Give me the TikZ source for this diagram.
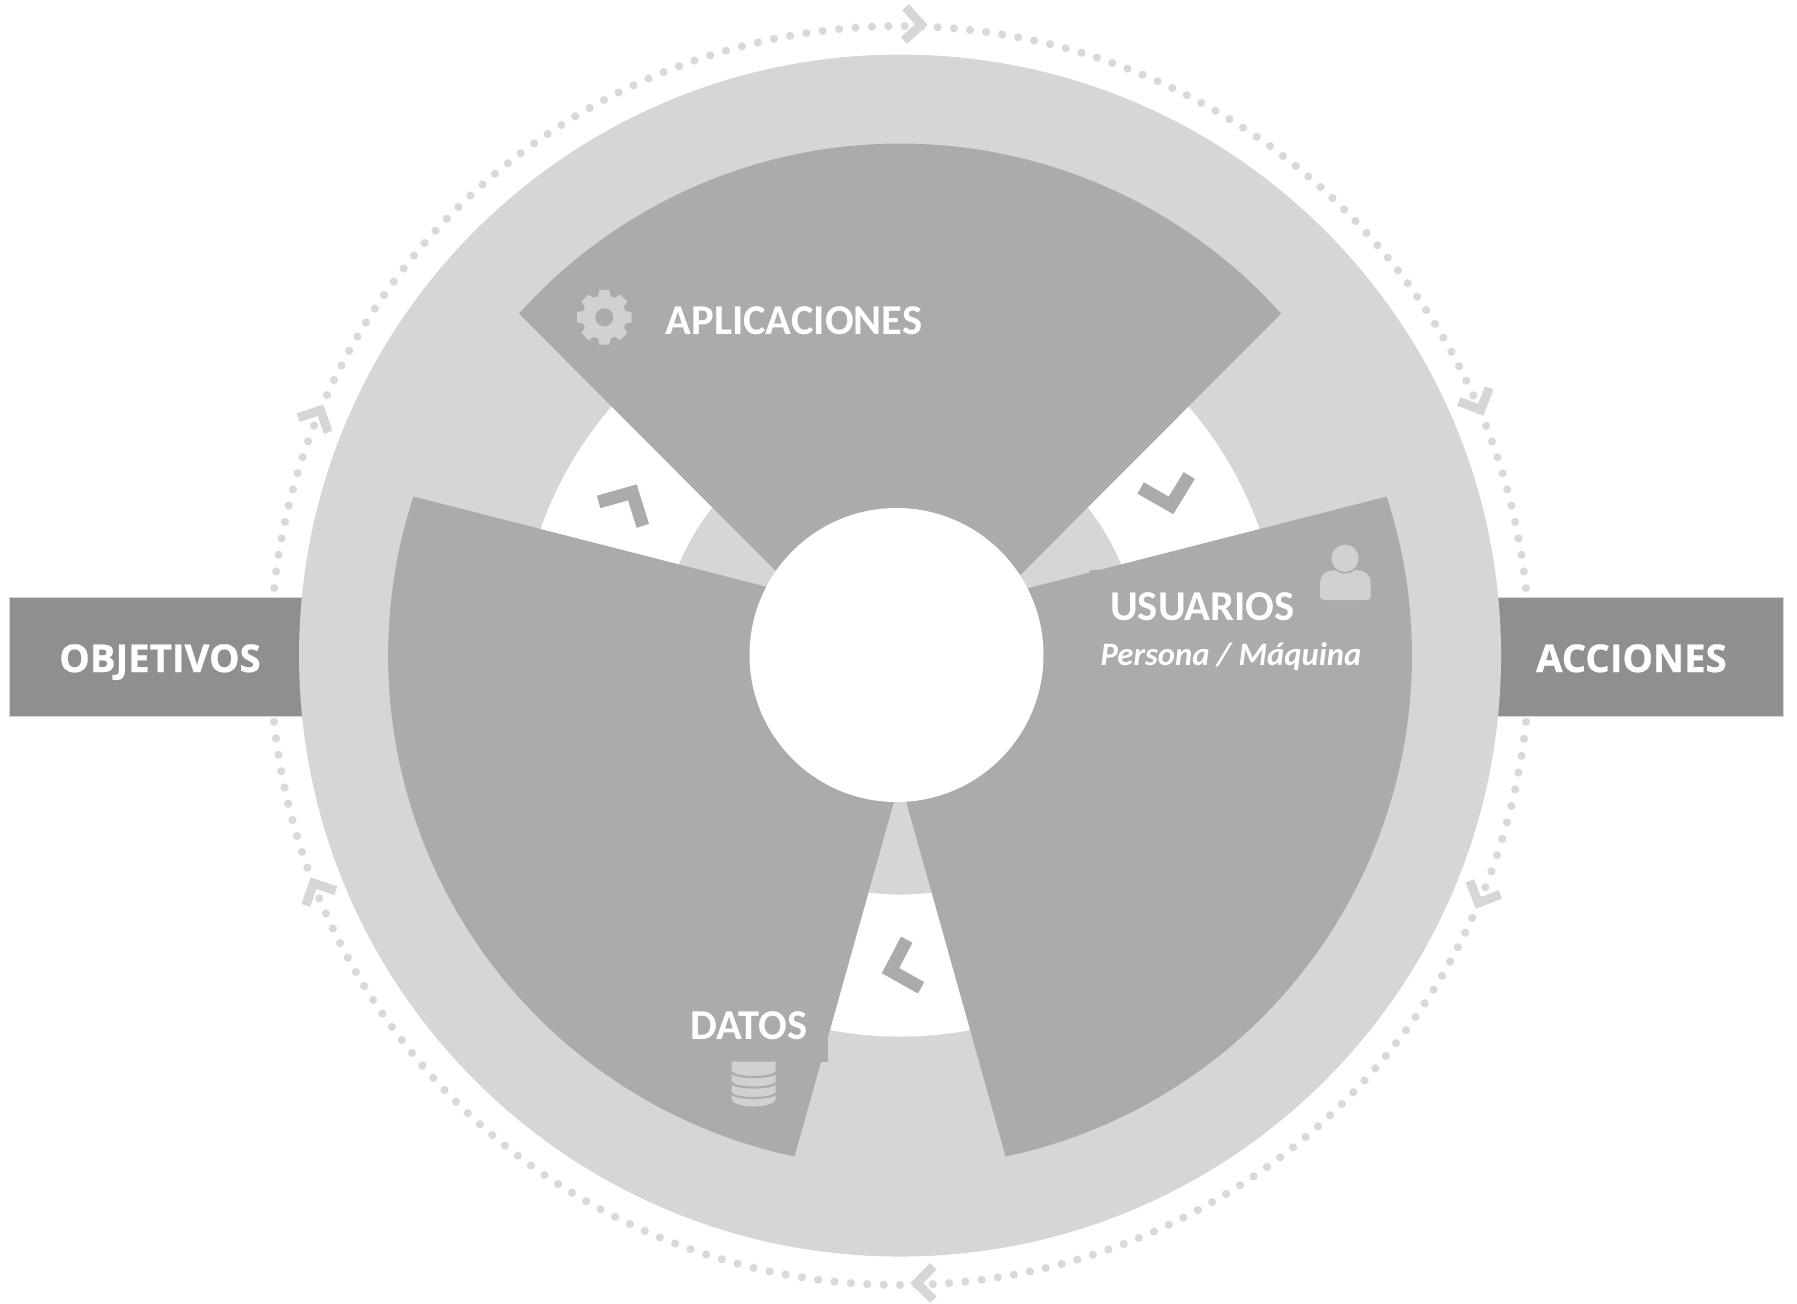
\documentclass[tikz,border=0pt]{standalone}
\usepackage{fontspec}
\setmainfont{Carlito}
\newfontfamily\barfont[BoldFeatures={FakeBold=0.8}]{Open Sans}
\definecolor{diskgray}{RGB}{213,215,212}
\definecolor{sectorgray}{RGB}{171,171,171}
\definecolor{bargray}{RGB}{143,143,143}
\definecolor{dotgray}{RGB}{217,217,217}
\definecolor{icongray}{RGB}{208,210,207}
\begin{document}
\begin{tikzpicture}[scale=0.1]
	\tikzstyle{every node}+=[inner sep=0pt]
	\tikzstyle{sector}=[fill=sectorgray]
	\tikzstyle{sidebar}=[fill=bargray, draw=diskgray, line width=0.2pt]
	\tikzstyle{ringdot}=[fill=dotgray]
	\tikzstyle{ringtick}=[draw=diskgray, line width=2.6pt, miter limit=4]
	\tikzstyle{gaptick}=[draw=sectorgray, line width=3.7pt, miter limit=4]
	\tikzstyle{icon}=[fill=icongray]
	\tikzstyle{sectorlabel}=[text=white, font=\fontsize{12.1}{12.1}\selectfont\bfseries, anchor=base]
	\tikzstyle{barlabel}=[text=white, font=\barfont\fontsize{10.9}{10.9}\selectfont\bfseries, anchor=base]
	\useasboundingbox (0,0) rectangle (179.7,-130.3);
	\coordinate (C) at (90,-65.55);
	% dotted ring, one run between two arrows or a bar
	\foreach \s/\e/\n in {88.06/22.93/44, 22.93/6.15/11, -6.05/-23.15/11, -23.15/-88.5/44, -88.5/-158.8/47, 201.2/186.04/10, 173.85/157.05/11, 157.05/88.06/46}
		\foreach \i in {0,...,\n}
			\fill [ringdot] (C) ++({\s+(\e-\s)*\i/\n}:62.95) circle (0.41);
	% side bars
	\draw [sidebar] (0.9,-59.7) rectangle (31,-71.6);
	\draw [sidebar] (149,-59.7) rectangle (178.3,-71.6);
	% ring arrows
	\foreach \x/\y/\a in {92.7/-2.5/-3, 148.3/-41.5/-66, 147.6/-90.8/-114, 91.1/-128.3/180, 31.1/-87.8/116, 32.3/-40.5/64}
		\draw [ringtick, shift={(\x,\y)}, rotate=\a] (-2.23,1.67) -- (-0.57,0) -- (-2.23,-1.67);
	% disk, white ring, sectors, hub
	\fill [diskgray] (C) circle (60.1);
	\fill [white] (C) circle (38.1);
	\fill [diskgray] (C) circle (23.9);
	\foreach \a/\d in {90/4, 210/4.8, 330/4.8}
		\fill [sector, shift={(C)}, rotate=\a-90] (0,-\d) -- (41.9:51.2) arc [start angle=41.9, end angle=138.1, radius=51.2] -- cycle;
	\fill [sector] (82.77,-103.8) -- (82.77,-106.17) -- (81.5,-106.17) -- (81.5,-103.8) -- cycle;
	\fill [sector] (109,-57) -- (109.9,-57) -- (110.5,-58) -- (109,-58.5) -- cycle;
	\fill [white] (89.65,-65.5) circle (14.7);
	% gap arrows
	\foreach \x/\y/\a in {63.67/-48.43/61.6, 117.33/-51.43/-75.6, 88.17/-97.33/196.6}
		\draw [gaptick, shift={(\x,\y)}, rotate=\a] (-3.36,2.51) -- (-0.92,0) -- (-3.36,-2.51);
	% gear
	\fill [icon] (60.43,-31.73) circle (2.2);
	\foreach \a in {0,45,...,315}
		\fill [icon, shift={(60.43,-31.73)}, rotate=\a] (1.8,-0.7) -- (2.73,-0.5) -- (2.73,0.5) -- (1.8,0.7) -- cycle;
	\fill [sector] (60.43,-31.73) circle (0.9);
	% user
	\fill [icon] (132,-59.5) -- (132,-58.5) .. controls (132,-57.2) and (132.8,-57) .. (134,-57) -- (135.1,-57) .. controls (136.3,-57) and (137.07,-57.2) .. (137.07,-58.5) -- (137.07,-59.5) .. controls (137.07,-59.9) and (136.9,-60) .. (136.6,-60) -- (132.5,-60) .. controls (132.2,-60) and (132,-59.9) .. (132,-59.5) -- cycle;
	\draw [fill=icongray, draw=sectorgray, line width=0.5pt] (134.5,-55.83) circle (1.45);
	% database
	\fill [icon] (73.17,-106.17) -- (77.57,-106.17) -- (77.57,-109.9) arc [start angle=0, end angle=-180, x radius=2.2, y radius=0.75] -- cycle;
	\foreach \y in {-107.2,-108.25,-109.3}
		\draw [sectorgray, line width=0.6pt] (73.17,\y) arc [start angle=180, end angle=360, x radius=2.2, y radius=0.5];
	% labels
	\node [sectorlabel] (aplicaciones) at (79.4,-33.4) {APLICACIONES};
	\node [sectorlabel] (usuarios) at (120.24,-62.05) {USUARIOS};
	\node [sectorlabel, font=\fontsize{9.3}{9.3}\selectfont\bfseries\itshape] (persona) at (123.1,-66.5) {Persona / Máquina};
	\node [sectorlabel] (datos) at (74.87,-103.95) {DATOS};
	\node [barlabel] (objetivos) at (16,-67.2) {OBJETIVOS};
	\node [barlabel] (acciones) at (163.14,-67.2) {ACCIONES};
\end{tikzpicture}
\end{document}
